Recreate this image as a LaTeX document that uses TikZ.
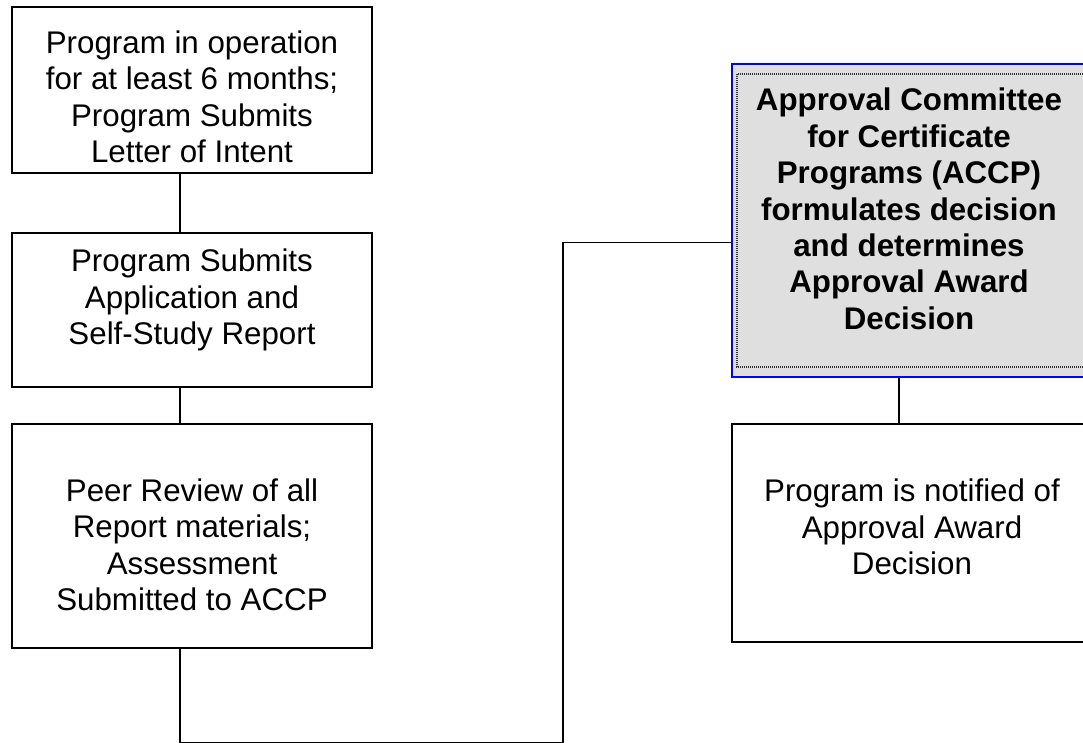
\documentclass[tikz,border=0pt]{standalone}
\usepackage{fontspec}
\setmainfont{Liberation Sans}
\definecolor{boxgray}{HTML}{DFDFDF}
\definecolor{boxblue}{HTML}{0000FF}
\tikzset{
  flowbox/.style={draw=black, line width=1.8pt, fill=white, inner sep=0pt, minimum width=360pt},
  graybox/.style={draw=boxblue, line width=2pt, fill=boxgray, inner sep=0pt, minimum width=360pt},
  label/.style={align=center, inner sep=0pt, font=\fontsize{31.3}{36.4}\selectfont},
  boldlabel/.style={label, font=\fontsize{31.3}{36.4}\selectfont\bfseries},
  conn/.style={draw=black, line width=1.5pt},
}
\begin{document}
\begin{tikzpicture}[x=1pt, y=-1pt]
\useasboundingbox (0,0) rectangle (1083,742);
\clip (0,0) rectangle (1083,742);
\fill[white] (0,0) rectangle (1083,742);
% left column boxes
\node[flowbox, minimum height=166pt] (b1) at (192,90) {};
\node[flowbox, minimum height=154pt] (b2) at (192,310) {};
\node[flowbox, minimum height=224pt] (b3) at (192,536) {};
% right column
\node[graybox, minimum height=313pt] (g) at (912,220.5) {};
\draw[gray!35!black, line width=2pt, dash pattern=on 1pt off 1pt]
  ([xshift=6pt,yshift=-11pt]g.north west) rectangle ([xshift=-6pt,yshift=11pt]g.south east);
\node[flowbox, minimum height=218pt] (b4) at (912,533) {};
% texts
\node[label] (t1) at (192,97) {Program in operation\\for at least 6 months;\\Program Submits\\Letter of Intent};
\node[label] (t2) at (192,300) {Program Submits\\Application and\\Self-Study Report};
\node[label] (t3) at (192,545) {Peer Review of all\\Report materials;\\Assessment\\Submitted to ACCP};
\node[label] (t4) at (912,527) {Program is notified of\\Approval Award\\Decision};
\node[boldlabel] (tg) at (909,209) {Approval Committee\\for Certificate\\Programs (ACCP)\\formulates decision\\and determines\\Approval Award\\Decision};
% connectors
\coordinate (low) at (180,742.5);
\coordinate (mid) at (563,742.5);
\draw[conn] ([xshift=-12pt]b1.south) -- ([xshift=-12pt]b2.north);
\draw[conn] ([xshift=-12pt]b2.south) -- ([xshift=-12pt]b3.north);
\draw[conn] ([xshift=-12pt]b3.south) -- (low) -- (mid) |- ([yshift=-22pt]g.west);
\draw[conn] ([xshift=-13pt]g.south) -- ([xshift=-13pt]b4.north);
\end{tikzpicture}
\end{document}
